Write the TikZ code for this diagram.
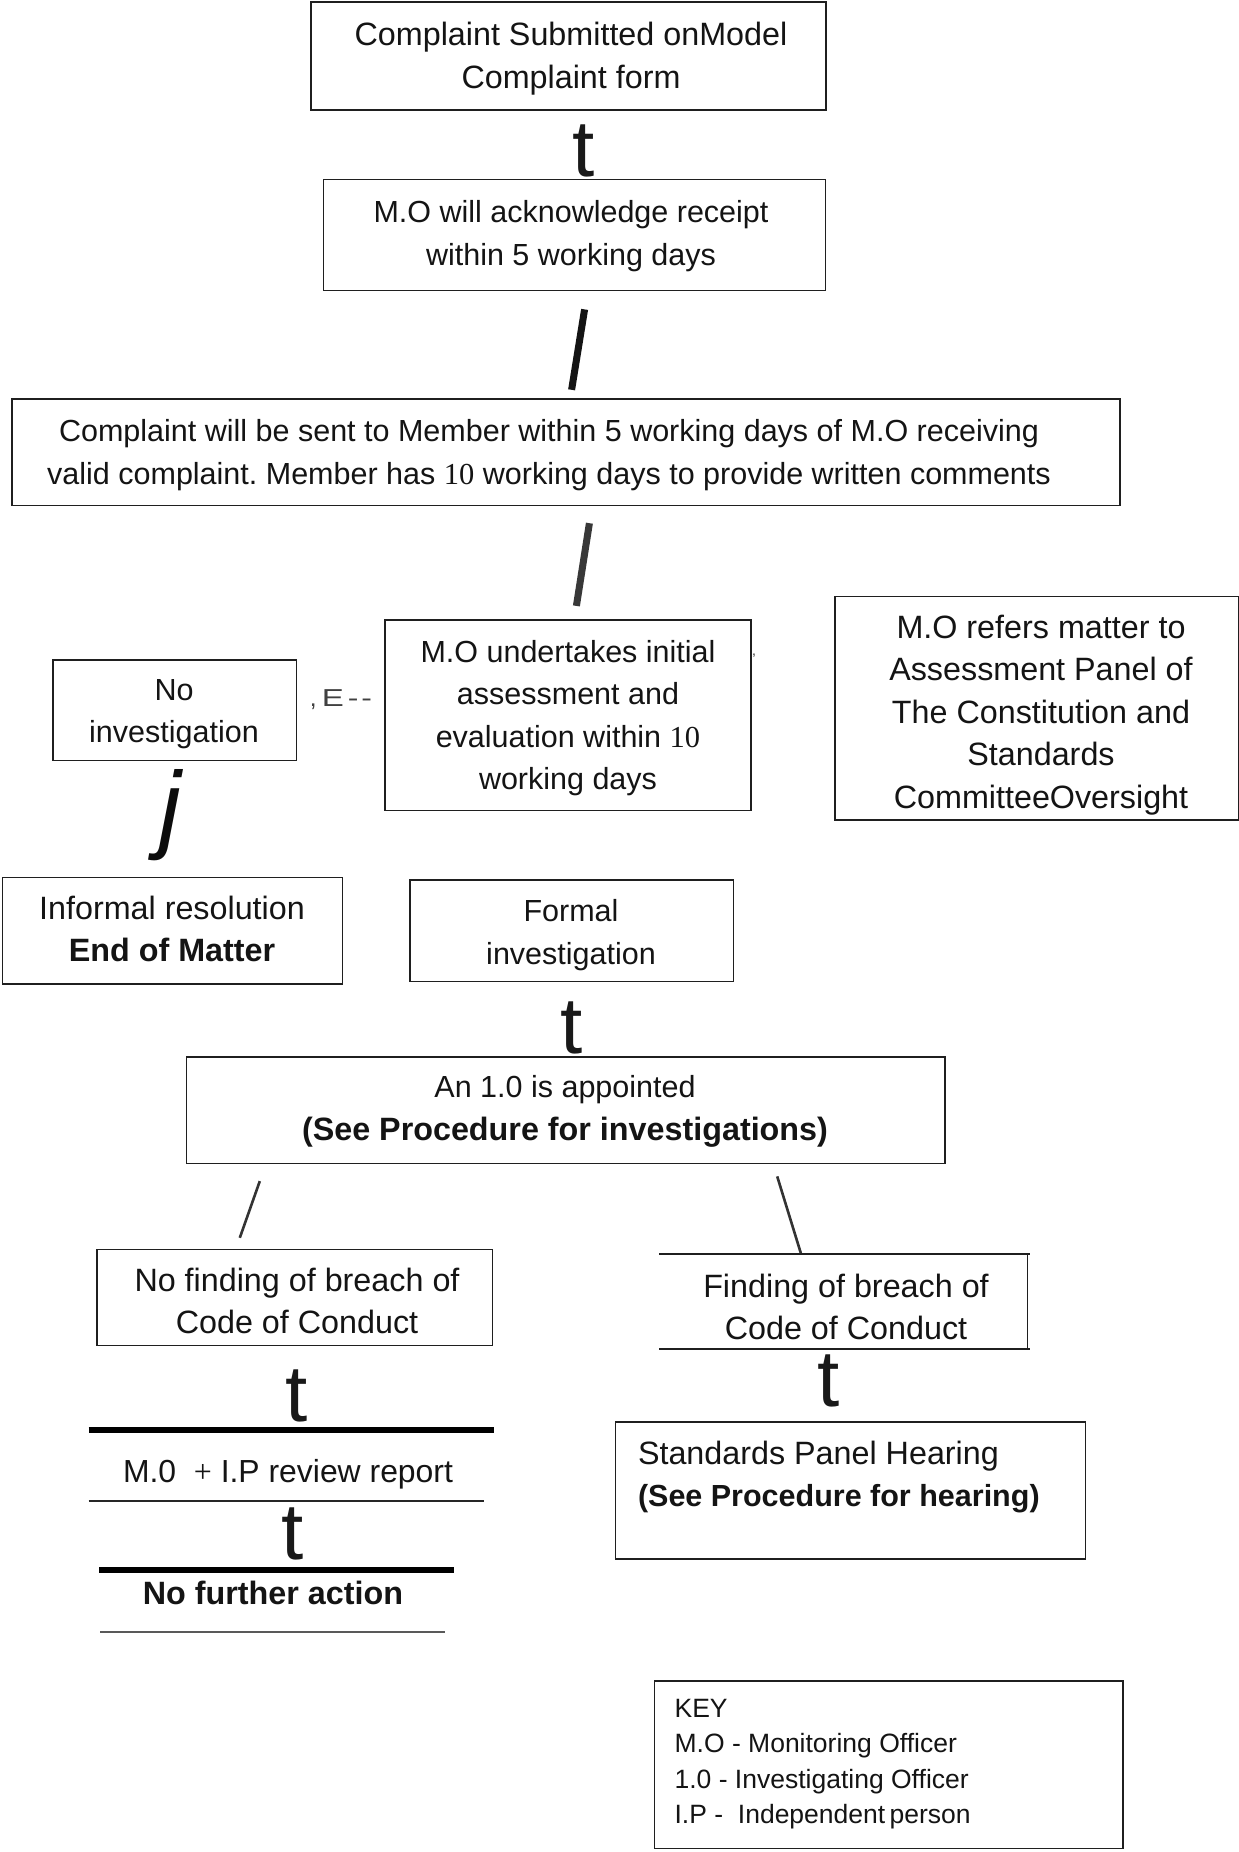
\documentclass[tikz,border=0pt]{standalone}
\usepackage{fontspec}
\setmainfont{Liberation Sans}
\newfontfamily\serifnum{Liberation Serif}
\usepackage{graphicx}
\frenchspacing
\newcommand\mainsz{\fontsize{30.5}{42.5}\selectfont}
\newcommand\largesz{\fontsize{32.3}{42.5}\selectfont}
\newcommand\keysz{\fontsize{26.5}{35.4}\selectfont}
\newcommand\bigsz{\fontsize{80}{80}\selectfont}
\begin{document}
\begin{tikzpicture}[x=1pt,y=-1pt,
  frame/.style={draw=black!88, line width=1.6pt, inner sep=0pt, outer sep=0pt},
  txt/.style={font=\mainsz, align=center, inner sep=0pt, text=black!92},
  ltxt/.style={font=\largesz, align=center, inner sep=0pt, text=black!92},
  keytxt/.style={font=\keysz, align=left, inner sep=0pt, text=black!92},
  arrowglyph/.style={font=\bigsz, inner sep=0pt, anchor=base, text=black!90},
  slash/.style={line width=7pt, draw=black!92},
  thinslash/.style={line width=2.6pt, draw=black!80},
  heavyrule/.style={line width=5.5pt, draw=black},
  lightrule/.style={line width=1.5pt, draw=black!85}]
\useasboundingbox (0,0) rectangle (1239,1852);
\fill[white] (0,0) rectangle (1239,1852);

% frames
\node[frame, minimum width=515pt, minimum height=108pt] (b1) at (568.5,56) {};
\node[frame, minimum width=502pt, minimum height=111pt] (b2) at (574.6,235) {};
\node[frame, minimum width=1107.9pt, minimum height=106.3pt] (b3) at (565.75,452.35) {};
\node[frame, minimum width=366.2pt, minimum height=190.3pt] (b4) at (568.1,715.15) {};
\node[frame, minimum width=243.4pt, minimum height=100.4pt] (b5) at (174.8,710.4) {};
\node[frame, minimum width=403.5pt, minimum height=223.2pt] (b6) at (1036.75,708.1) {};
\node[frame, minimum width=340.1pt, minimum height=106.3pt] (b7) at (172.45,930.75) {};
\node[frame, minimum width=323.7pt, minimum height=101.5pt] (b8) at (571.65,930.75) {};
\node[frame, minimum width=758.3pt, minimum height=106.4pt] (b9) at (565.75,1110.2) {};
\node[frame, minimum width=395.6pt, minimum height=95.7pt] (b10) at (294.7,1297.45) {};
\node[frame, minimum width=470pt, minimum height=137pt] (b12) at (850.4,1490.5) {};
\node[frame, minimum width=468.9pt, minimum height=167.7pt] (b13) at (888.75,1764.55) {};

% open frame for "Finding of breach"
\coordinate (f1) at (659,1254);
\coordinate (f2) at (1030,1254);
\coordinate (f3) at (1027.5,1254);
\coordinate (f4) at (1027.5,1349);
\coordinate (f5) at (659,1349);
\coordinate (f6) at (1030,1349);
\draw[line width=1.6pt, black!88] (f1) -- (f2) (f3) -- (f4) (f5) -- (f6);

% texts
\node[ltxt] (t1) at (571,58.5) {Complaint Submitted onModel\\Complaint form};
\node[txt] (t2) at (571,236) {M.O will acknowledge receipt\\within 5 working days};
\node[txt] (t3) at (549,455) {Complaint will be sent to Member within 5 working days of M.O receiving\\valid complaint. Member has {\serifnum 10} working days to provide written comments};
\node[txt] (t4) at (568,718) {M.O undertakes initial\\assessment and\\evaluation within {\serifnum 10}\\working days};
\node[txt] (t5) at (174,714) {No\\investigation};
\node[ltxt] (t6) at (1041,715) {M.O refers matter to\\Assessment Panel of\\The Constitution and\\Standards\\CommitteeOversight};
\node[ltxt] (t7) at (172,929) {Informal resolution\\\textbf{End of Matter}};
\node[txt] (t8) at (571,935) {Formal\\investigation};
\node[txt] (t9) at (565,1111.5) {An 1.0 is appointed\\{\largesz\bfseries (See Procedure for investigations)}};
\node[ltxt] (t10) at (297,1301) {No finding of breach of\\Code of Conduct};
\node[ltxt] (t11) at (846,1307) {Finding of breach of\\Code of Conduct};
\node[txt, align=left, anchor=west] (t12) at (637.8,1477) {{\largesz Standards Panel Hearing}\\\textbf{(See Procedure for hearing)}};
\node[txt, font=\fontsize{31.9}{42.5}\selectfont] (t13) at (288,1474) {M.0\ \ {\serifnum +} I.P review report};
\node[ltxt] (t14) at (273,1593) {\textbf{No further action}};
\node[keytxt, anchor=west] (t15) at (674.4,1764) {KEY\\M.O - Monitoring Officer\\1.0 - Investigating Officer\\I.P -\ \ Independent\,person};

% OCR arrow remnants
\node[arrowglyph] (a1) at (583.5,176) {t};
\node[arrowglyph] (a2) at (571.6,1053) {t};
\node[arrowglyph] (a3) at (296.5,1421) {t};
\node[arrowglyph] (a4) at (293,1559) {t};
\node[arrowglyph] (a5) at (829,1406) {t};
\node[font=\fontsize{98}{98}\selectfont\itshape, inner sep=0pt, anchor=base, text=black!95] (aj) at (170,840) {j};
\node[font=\fontsize{24.5}{24.5}\selectfont, inner sep=0pt, text=black!75] (ae) at (341,700)
  {,\hspace{5pt}\scalebox{1.35}[1]{E}\hspace{4pt}\scalebox{1.3}[1]{-}\hspace{3pt}\scalebox{1.3}[1]{-}};
\node[font=\fontsize{14}{14}\selectfont, inner sep=0pt, text=black!80] (ac) at (754,656) {,};

\coordinate (s1a) at (584.6,309.4);
\coordinate (s1b) at (571.6,389.8);
\coordinate (s2a) at (589.4,523.2);
\coordinate (s2b) at (576.4,605.9);
\draw[slash] (s1a) -- (s1b);
\draw[slash, draw=black!78] (s2a) -- (s2b);

\coordinate (l1a) at (259.8,1181.1);
\coordinate (l1b) at (239.8,1237.8);
\coordinate (r1a) at (777.2,1176.4);
\coordinate (r1b) at (800.8,1253.1);
\draw[thinslash] (l1a) -- (l1b);
\draw[thinslash] (r1a) -- (r1b);

% rules under lower-left chain
\coordinate (h1a) at (88.6,1430);
\coordinate (h1b) at (493.7,1430);
\coordinate (h2a) at (88.6,1501);
\coordinate (h2b) at (484,1501);
\coordinate (h3a) at (99,1570);
\coordinate (h3b) at (453.5,1570);
\coordinate (h4a) at (100,1632);
\coordinate (h4b) at (445,1632);
\draw[heavyrule] (h1a) -- (h1b);
\draw[lightrule] (h2a) -- (h2b);
\draw[heavyrule] (h3a) -- (h3b);
\draw[line width=2.5pt, draw=black!65] (h4a) -- (h4b);
\end{tikzpicture}
\end{document}
